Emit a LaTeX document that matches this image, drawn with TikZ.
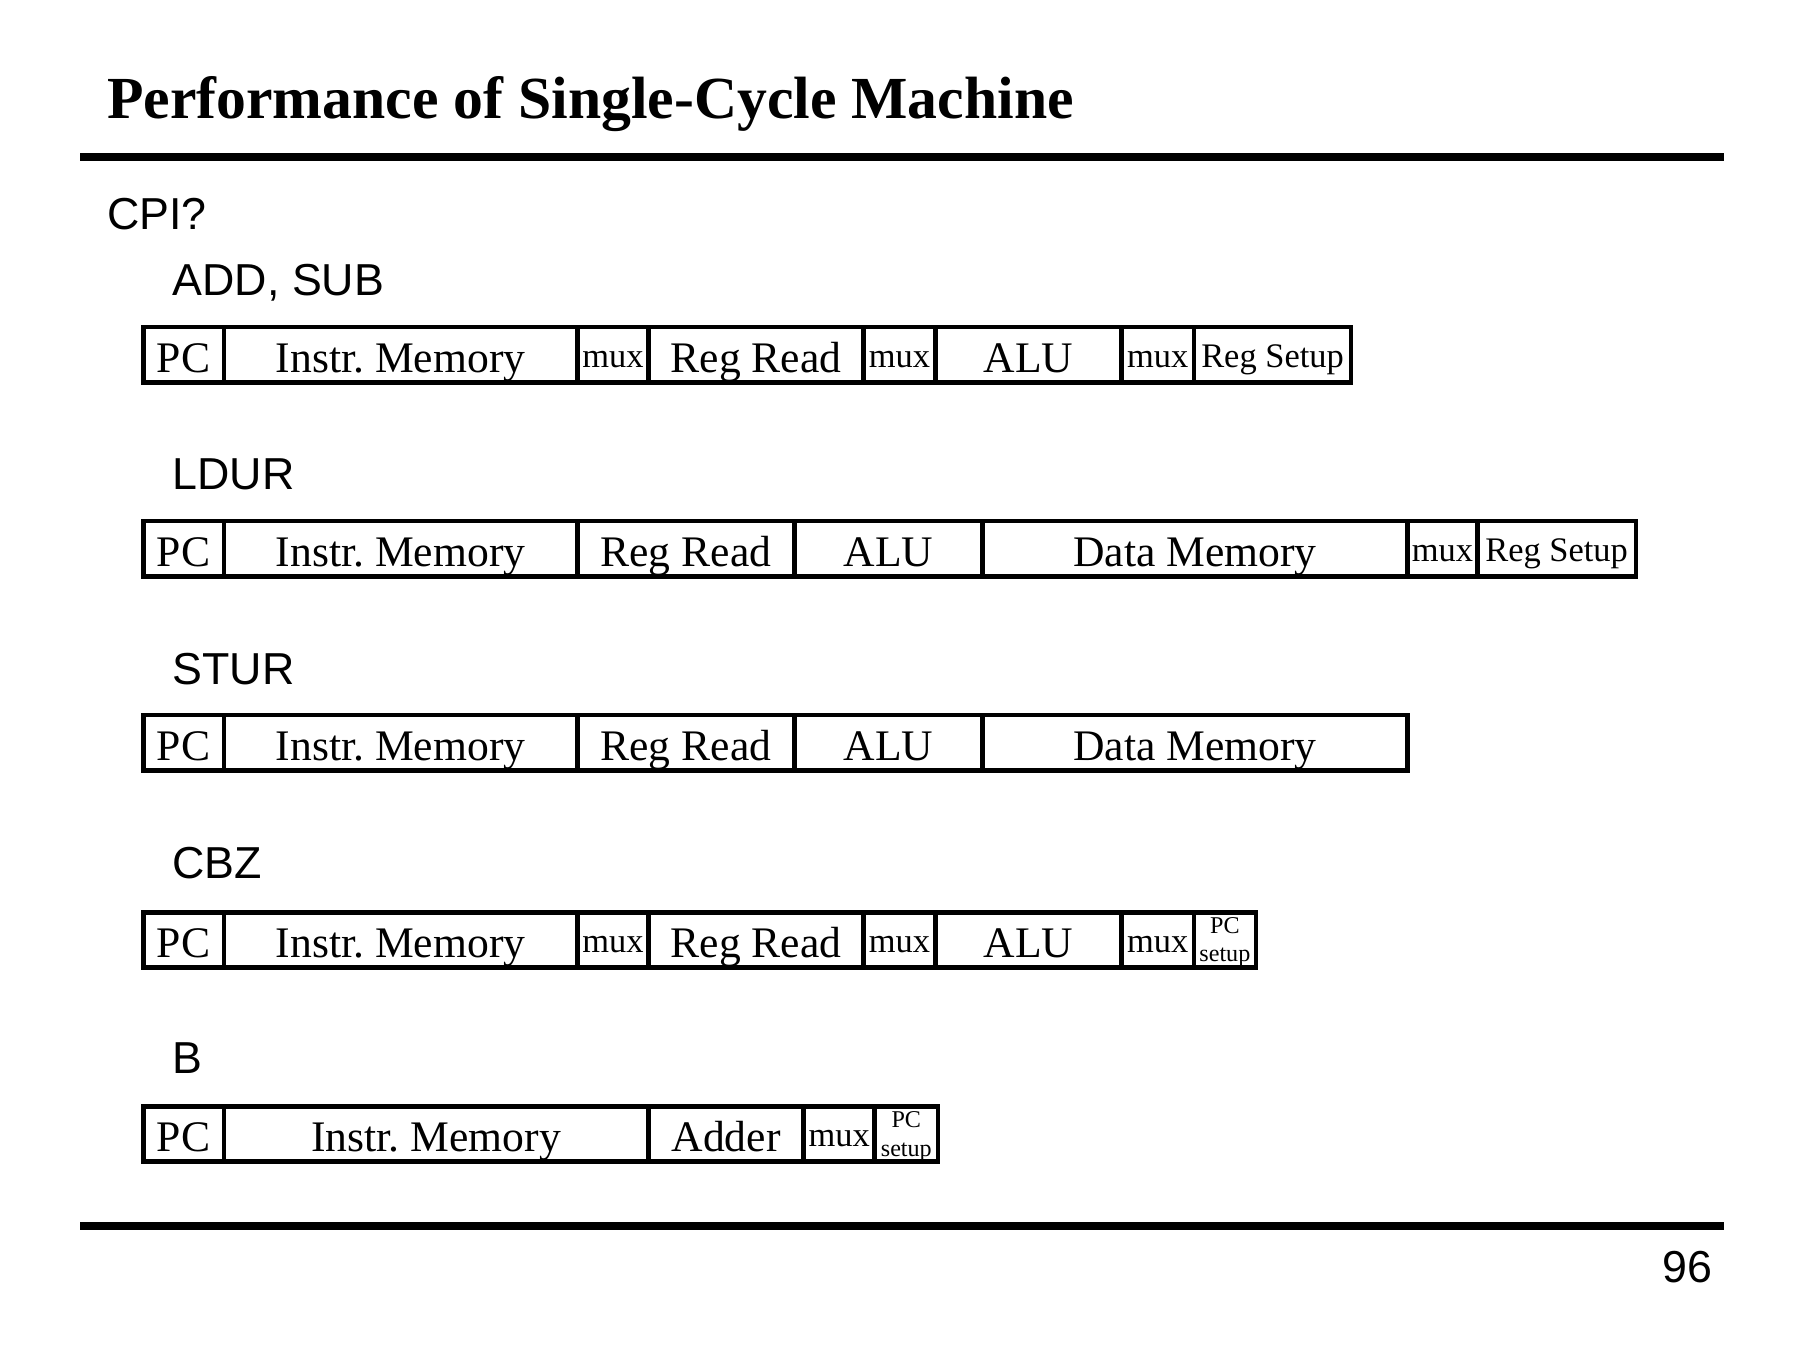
\documentclass[tikz,border=0pt]{standalone}
\usepackage{fontspec}
\setmainfont{Liberation Serif}
\newfontfamily\sansf{Liberation Sans}
\newcommand\cellbox[6]{\node[#5, minimum width={(#3-#2)*0.5pt}] (#1) at ({(#2+#3)/2},{#4+24}) {#6};}
\begin{document}
\frenchspacing
\begin{tikzpicture}[
  x=0.5pt, y=-0.5pt,
  cell/.style={draw, line width=2pt, inner sep=0pt, minimum height=24pt,
    font=\fontsize{19}{22}\selectfont, text height=15.5pt, text depth=0pt},
  muxcell/.style={cell, font=\fontsize{15}{18}\selectfont, text height=11pt},
  tinytext/.style={font=\fontsize{10.5}{12}\selectfont, inner sep=0pt, anchor=base},
  lbl/.style={font=\sansf\fontsize{19.5}{23}\selectfont, inner sep=0pt, anchor=base west},
  rule/.style={line width=3.5pt}
]
\useasboundingbox (0,0) rectangle (1568,1176);
% title and rules
\node[font=\bfseries\fontsize{26}{30}\selectfont, inner sep=0pt, anchor=base west] (title) at (93,103) {Performance of Single-Cycle Machine};
\draw[rule] (70,137) -- (1502,137);
\draw[rule] (70,1068) -- (1502,1068);
\node[font=\sansf\fontsize{19.5}{23}\selectfont, inner sep=0pt, anchor=base east] (pagenum) at (1492,1117) {96};
% labels
\node[lbl] (cpi) at (93,200) {CPI?};
\node[lbl] (laddsub) at (150,257) {ADD, SUB};
\node[lbl] (lldur) at (150,426) {LDUR};
\node[lbl] (lstur) at (150,596) {STUR};
\node[lbl] (lcbz) at (150,765) {CBZ};
\node[lbl] (lb) at (150,935) {B};
% ADD, SUB
\cellbox{a1}{125}{195}{285}{cell}{PC}
\cellbox{a2}{195}{503}{285}{cell}{Instr. Memory}
\cellbox{a3}{503}{565}{285}{muxcell}{mux}
\cellbox{a4}{565}{752}{285}{cell}{Reg Read}
\cellbox{a5}{752}{815}{285}{muxcell}{mux}
\cellbox{a6}{815}{977}{285}{cell}{ALU}
\cellbox{a7}{977}{1040}{285}{muxcell}{mux}
\cellbox{a8}{1040}{1177}{285}{muxcell}{Reg Setup}
% LDUR
\cellbox{b1}{125}{195}{454}{cell}{PC}
\cellbox{b2}{195}{503}{454}{cell}{Instr. Memory}
\cellbox{b3}{503}{692}{454}{cell}{Reg Read}
\cellbox{b4}{692}{856}{454}{cell}{ALU}
\cellbox{b5}{856}{1226}{454}{cell}{Data Memory}
\cellbox{b6}{1226}{1287}{454}{muxcell}{mux}
\cellbox{b7}{1287}{1425}{454}{muxcell}{Reg Setup}
% STUR
\cellbox{c1}{125}{195}{623}{cell}{PC}
\cellbox{c2}{195}{503}{623}{cell}{Instr. Memory}
\cellbox{c3}{503}{692}{623}{cell}{Reg Read}
\cellbox{c4}{692}{856}{623}{cell}{ALU}
\cellbox{c5}{856}{1226}{623}{cell}{Data Memory}
% CBZ
\cellbox{d1}{125}{195}{795}{cell}{PC}
\cellbox{d2}{195}{503}{795}{cell}{Instr. Memory}
\cellbox{d3}{503}{565}{795}{muxcell}{mux}
\cellbox{d4}{565}{752}{795}{cell}{Reg Read}
\cellbox{d5}{752}{815}{795}{muxcell}{mux}
\cellbox{d6}{815}{977}{795}{cell}{ALU}
\cellbox{d7}{977}{1040}{795}{muxcell}{mux}
\cellbox{d8}{1040}{1094}{795}{muxcell}{}
\node[tinytext] (d8a) at (1067,813) {PC};
\node[tinytext] (d8b) at (1067,838) {setup};
% B
\cellbox{e1}{125}{195}{964}{cell}{PC}
\cellbox{e2}{195}{565}{964}{cell}{Instr. Memory}
\cellbox{e3}{565}{700}{964}{cell}{Adder}
\cellbox{e4}{700}{762}{964}{muxcell}{mux}
\cellbox{e5}{762}{817}{964}{muxcell}{}
\node[tinytext] (e5a) at (789.5,982) {PC};
\node[tinytext] (e5b) at (789.5,1007) {setup};
\end{tikzpicture}
\end{document}
